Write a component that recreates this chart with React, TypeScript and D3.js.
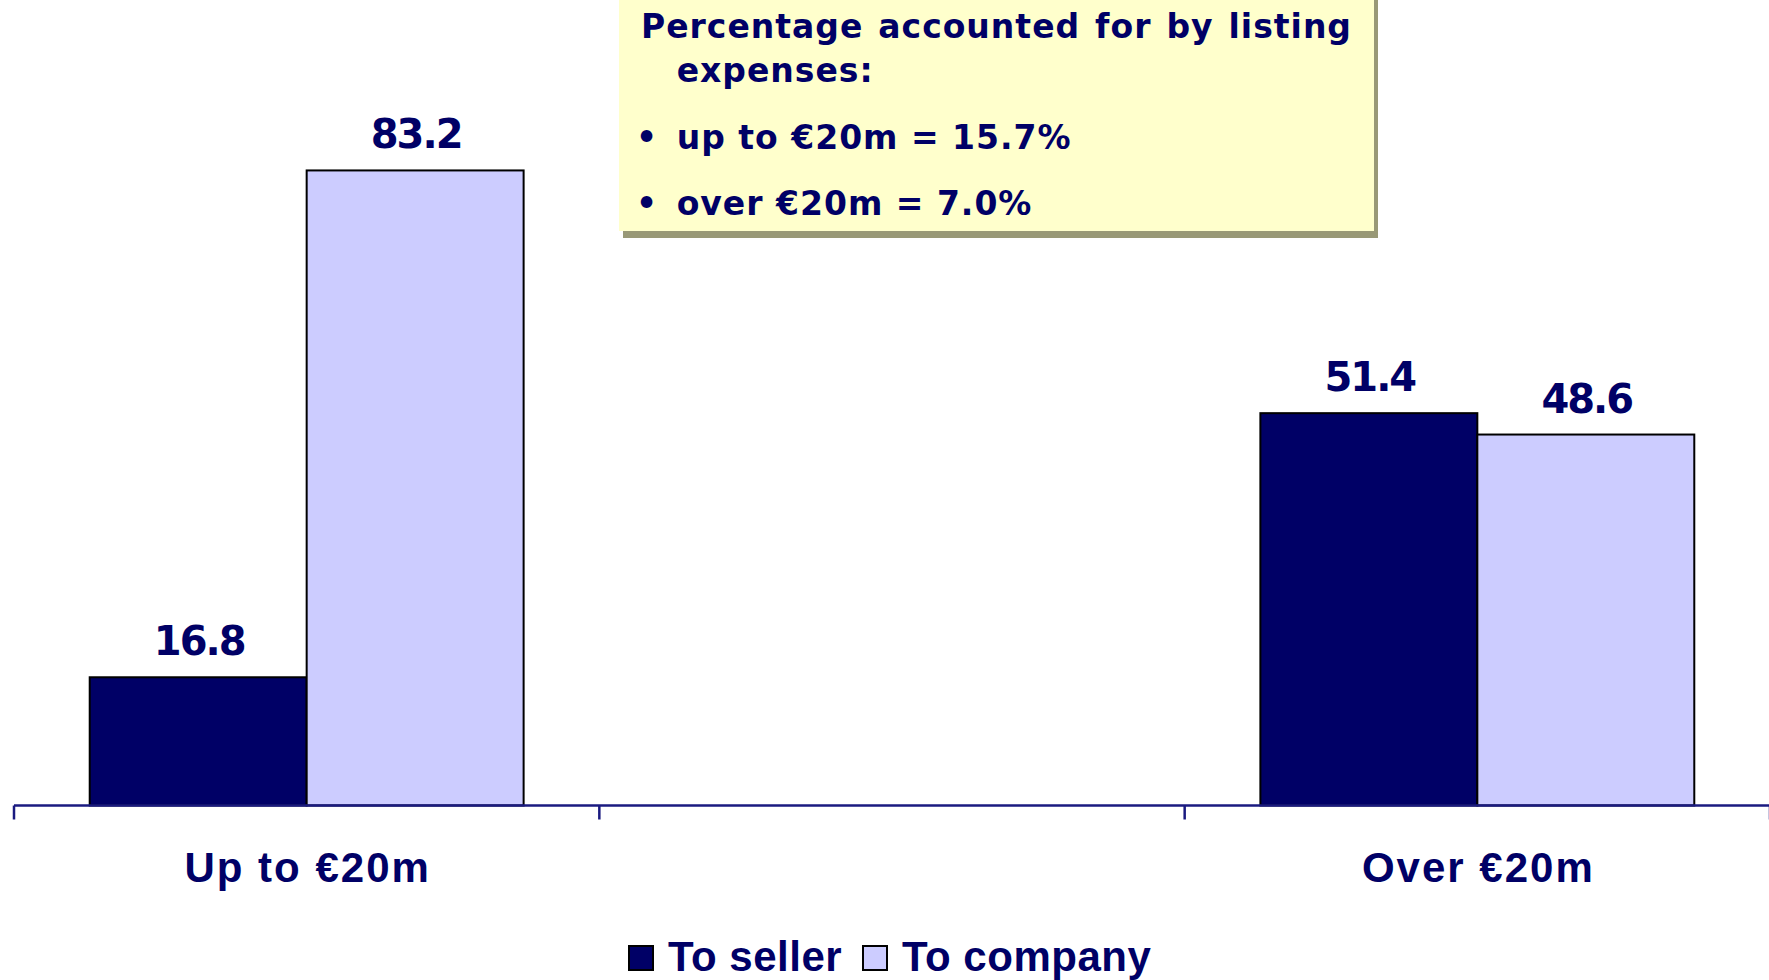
import React, { useEffect, useRef } from "react";
import * as d3 from "d3";

const categories = ["Up to €20m", "", "Over €20m"];
const seriesNames = ["To seller", "To company"];
const toSeller = [16.8, null, 51.4];
const toCompany = [83.2, null, 48.6];
const noteTitle = "Percentage accounted for by listing";
const noteTitle2 = "expenses:";
const noteBullets = ["up to €20m = 15.7%", "over €20m = 7.0%"];

const W = 1769;
const H = 980;
const NAVY = "#000066";
const LILAC = "#CCCCFF";

export default function App() {
  const ref = useRef<SVGSVGElement>(null);

  useEffect(() => {
    const svg = d3.select(ref.current);
    svg.selectAll("*").remove();

    const x0 = d3
      .scaleBand<string>()
      .domain(categories.map((c, i) => String(i)))
      .range([14, 1770])
      .paddingInner(0)
      .paddingOuter(0);
    const x1 = d3
      .scaleBand<string>()
      .domain(seriesNames)
      .range([0, x0.bandwidth()])
      .paddingInner(0)
      .paddingOuter(0.349);
    const y = d3.scaleLinear().domain([0, 100]).range([805.5, 42.2]);
    const color = d3.scaleOrdinal<string, string>().domain(seriesNames).range([NAVY, LILAC]);

    svg.append("rect").attr("width", W).attr("height", H).attr("fill", "#ffffff");

    // bars
    const rows = categories.map((c, i) => ({
      key: String(i),
      label: c,
      values: [
        { s: seriesNames[0], v: toSeller[i] },
        { s: seriesNames[1], v: toCompany[i] },
      ],
    }));
    const g = svg
      .selectAll("g.cat")
      .data(rows)
      .enter()
      .append("g")
      .attr("transform", (d) => `translate(${x0(d.key)},0)`);
    g.selectAll("rect")
      .data((d) => d.values.filter((e) => e.v != null))
      .enter()
      .append("rect")
      .attr("x", (d) => x1(d.s)!)
      .attr("width", x1.bandwidth())
      .attr("y", (d) => y(d.v as number))
      .attr("height", (d) => y(0) - y(d.v as number))
      .attr("fill", (d) => color(d.s))
      .attr("stroke", "#000000")
      .attr("stroke-width", 2);
    g.selectAll("text.val")
      .data((d) => d.values.filter((e) => e.v != null))
      .enter()
      .append("text")
      .attr("class", "val")
      .attr("x", (d) => x1(d.s)! + x1.bandwidth() / 2 + 1)
      .attr("y", (d) => y(d.v as number) - 22)
      .attr("text-anchor", "middle")
      .attr("font-family", "DejaVu Sans")
      .attr("font-weight", "bold")
      .attr("font-size", 40)
      .attr("letter-spacing", -2)
      .attr("fill", NAVY)
      .text((d) => (d.v as number).toFixed(1));

    // axis
    const axisY = y(0);
    svg
      .append("line")
      .attr("x1", 14)
      .attr("x2", 1770)
      .attr("y1", axisY)
      .attr("y2", axisY)
      .attr("stroke", "#1a1a80")
      .attr("stroke-width", 2.5);
    const boundaries = categories.map((c, i) => x0(String(i))!).concat([x0.range()[1]]);
    svg
      .selectAll("line.tick")
      .data(boundaries)
      .enter()
      .append("line")
      .attr("class", "tick")
      .attr("x1", (d) => d)
      .attr("x2", (d) => d)
      .attr("y1", axisY)
      .attr("y2", axisY + 14)
      .attr("stroke", "#1a1a80")
      .attr("stroke-width", 2.5);
    svg
      .selectAll("text.cat")
      .data(rows)
      .enter()
      .append("text")
      .attr("class", "cat")
      .attr("x", (d) => x0(d.key)! + x0.bandwidth() / 2 + 1)
      .attr("y", 881.7)
      .attr("text-anchor", "middle")
      .attr("font-family", "Liberation Sans, Arial, sans-serif")
      .attr("font-weight", "bold")
      .attr("font-size", 42)
      .attr("letter-spacing", 2)
      .attr("fill", NAVY)
      .text((d) => d.label);

    // legend
    const lg = svg.append("g");
    const legendPos = [629, 863];
    seriesNames.forEach((s, i) => {
      lg.append("rect")
        .attr("x", legendPos[i])
        .attr("y", 946)
        .attr("width", 24)
        .attr("height", 24)
        .attr("fill", color(s))
        .attr("stroke", "#000000")
        .attr("stroke-width", 2);
      lg.append("text")
        .attr("x", legendPos[i] + 39)
        .attr("y", 971)
        .attr("font-family", "Liberation Sans, Arial, sans-serif")
        .attr("font-weight", "bold")
        .attr("font-size", 42)
        .attr("letter-spacing", 0.5)
        .attr("fill", NAVY)
        .text(s);
    });

    // note box
    const nb = svg.append("g");
    nb.append("rect")
      .attr("x", 623)
      .attr("y", -10)
      .attr("width", 755)
      .attr("height", 248)
      .attr("fill", "#999977");
    nb.append("rect")
      .attr("x", 619)
      .attr("y", -10)
      .attr("width", 755)
      .attr("height", 241)
      .attr("fill", "#FFFFCC");
    const tf = (sel: any) =>
      sel
        .attr("font-family", "DejaVu Sans, Verdana, sans-serif")
        .attr("font-weight", "bold")
        .attr("font-size", 33)
        .attr("letter-spacing", 1)
        .attr("fill", NAVY);
    const t1 = tf(nb.append("text").attr("x", 641).attr("y", 37.5)).text(noteTitle);
    const node = t1.node() as SVGTextElement;
    const natural = node.getComputedTextLength();
    const gaps = noteTitle.split(" ").length - 1;
    t1.attr("word-spacing", (1352 - 641 - natural) / gaps);
    tf(nb.append("text").attr("x", 676.7).attr("y", 82)).text(noteTitle2);
    const by = [148.5, 215];
    noteBullets.forEach((b, i) => {
      tf(nb.append("text").attr("x", 647).attr("y", by[i]).attr("text-anchor", "middle").attr("font-size", 28)).text("•");
      tf(nb.append("text").attr("x", 676.7).attr("y", by[i])).text(b);
    });
  }, []);

  return (
    <svg
      ref={ref}
      width={W}
      height={H}
      style={{ position: "absolute", left: 0, top: 0, display: "block" }}
    />
  );
}
